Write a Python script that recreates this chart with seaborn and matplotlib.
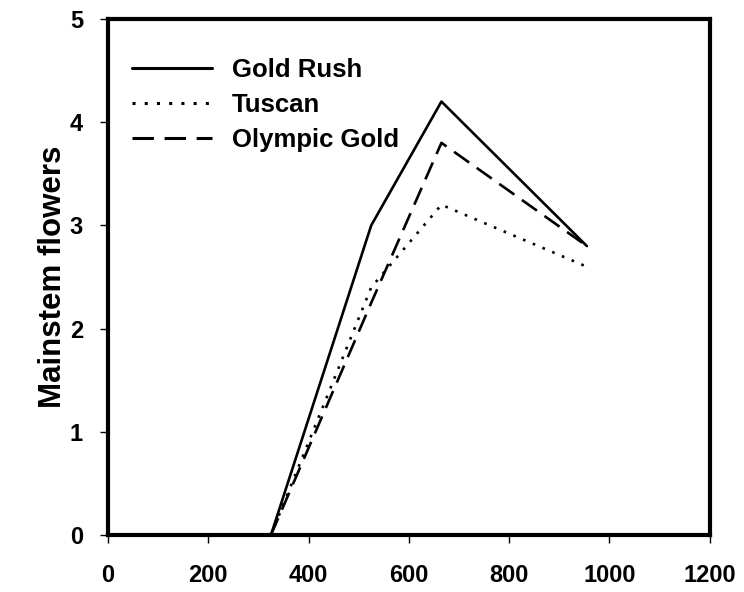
import pandas as pd
import seaborn as sns
import matplotlib.pyplot as plt

# x positions of the sampling points
x_vals = [325, 525, 665, 955]

gold_rush = [0.0, 3.0, 4.2, 2.8]
tuscan = [0.0, 2.4, 3.2, 2.6]
olympic_gold = [0.0, 2.25, 3.8, 2.8]

series_names = ["Gold Rush", "Tuscan", "Olympic Gold"]

df = pd.DataFrame({
    "x": x_vals * 3,
    "y": gold_rush + tuscan + olympic_gold,
    "Cultivar": [series_names[0]] * 4 + [series_names[1]] * 4 + [series_names[2]] * 4,
})

sns.set_style("ticks", rc={"text.color": "black", "axes.labelcolor": "black",
                           "xtick.color": "black", "ytick.color": "black",
                           "axes.edgecolor": "black"})
plt.rcParams['font.family'] = ['Liberation Sans', 'DejaVu Sans']
plt.rcParams['font.weight'] = 'bold'

fig = plt.figure(figsize=(7.44, 5.92), dpi=100)
ax = fig.add_axes([0.145, 0.096, 0.809, 0.872])

dashes = {"Gold Rush": "", "Tuscan": (1, 3), "Olympic Gold": (7, 3.5)}
sns.lineplot(data=df, x="x", y="y", style="Cultivar", dashes=dashes,
             color="black", linewidth=1.9, ax=ax, legend=True)

ax.set_xlim(0, 1200)
ax.set_ylim(0, 5)
ax.set_xticks(range(0, 1201, 200))
ax.set_yticks(range(0, 6))
ax.set_xlabel("")
ax.set_ylabel("Mainstem flowers", fontsize=22.5, fontweight="bold", labelpad=1)
ax.tick_params(labelsize=17, width=1, length=6, direction="out")
ax.tick_params(axis="x", pad=14.5)
ax.tick_params(axis="y", pad=12)
for lbl in ax.get_xticklabels() + ax.get_yticklabels():
    lbl.set_fontweight("bold")
for sp in ax.spines.values():
    sp.set_linewidth(3)
    sp.set_visible(True)

leg = ax.legend(frameon=False, loc="upper left", bbox_to_anchor=(0.023, 0.945),
                prop={"size": 18.5, "weight": "bold"}, handlelength=3.1,
                handletextpad=0.78, labelspacing=0.44, borderaxespad=0)
for line in leg.get_lines():
    line.set_linewidth(2.2)

fig.savefig("out.png", dpi=100)
